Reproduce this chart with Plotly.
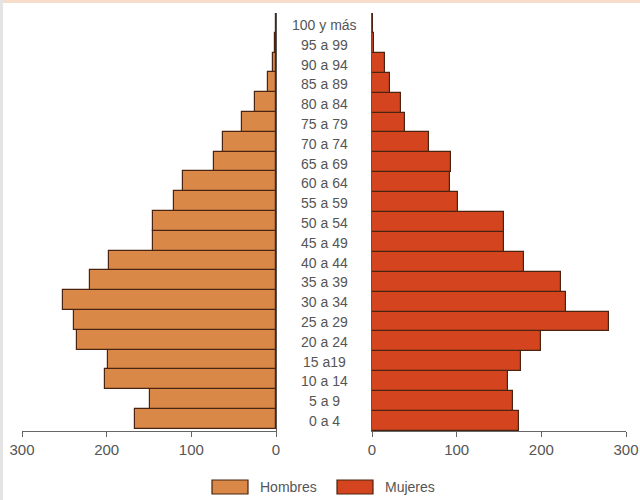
import plotly.graph_objects as go
from plotly.subplots import make_subplots

age_groups = ["0 a 4", "5 a 9", "10 a 14", "15 a19", "20 a 24", "25 a 29", "30 a 34",
              "35 a 39", "40 a 44", "45 a 49", "50 a 54", "55 a 59", "60 a 64", "65 a 69",
              "70 a 74", "75 a 79", "80 a 84", "85 a 89", "90 a 94", "95 a 99", "100 y más"]
hombres = [166, 149, 202, 198, 235, 238, 252, 220, 197, 145, 145, 120, 110, 73,
           63, 40, 25, 9, 3, 1, 0.5]
mujeres = [174, 167, 161, 176, 200, 280, 229, 223, 179, 156, 156, 102, 92, 93,
           67, 39, 34, 21, 15, 2, 1]
x_ticks = [0, 100, 200, 300]
series_names = ["Hombres", "Mujeres"]

c_h = "#DA8847"
c_m = "#D3441F"
edge = "#4a2410"
txt = "#555555"
font_family = "Liberation Sans, Arial, sans-serif"

W, H = 640, 500
T, B = 13, 69
PH = H - T - B  # plot height in px


def py(p):
    """pixel row -> paper y (paper spans the plot area)"""
    return (H - B - p) / PH


fig = make_subplots(rows=1, cols=2, shared_yaxes=False, horizontal_spacing=0)

fig.add_trace(go.Bar(y=age_groups, x=hombres, orientation="h", name=series_names[0],
                     marker=dict(color=c_h, line=dict(color=edge, width=1.2)),
                     showlegend=False), row=1, col=1)
fig.add_trace(go.Bar(y=age_groups, x=mujeres, orientation="h", name=series_names[1],
                     marker=dict(color=c_m, line=dict(color=edge, width=1.2)),
                     showlegend=False), row=1, col=2)

xcommon = dict(tickvals=x_ticks, ticktext=[str(v) for v in x_ticks], ticks="outside",
               ticklen=5, tickcolor="#666", showline=True, linecolor="#666", linewidth=1,
               showgrid=False, zeroline=False, automargin=False,
               tickfont=dict(family=font_family, size=15, color=txt))
fig.update_layout(
    xaxis=dict(domain=[22 / W, 276 / W], range=[300, 0], **xcommon),
    xaxis2=dict(domain=[372 / W, 626 / W], range=[0, 300], **xcommon),
    yaxis=dict(side="right", showline=True, linecolor="#555", linewidth=1.2,
               showticklabels=False, ticks="", showgrid=False, automargin=False,
               categoryorder="array", categoryarray=age_groups),
    yaxis2=dict(side="left", showline=True, linecolor="#555", linewidth=1.2,
                showticklabels=False, ticks="", showgrid=False, automargin=False,
                categoryorder="array", categoryarray=age_groups),
    bargap=0,
    width=W, height=H,
    margin=dict(l=0, r=0, t=T, b=B, autoexpand=False),
    plot_bgcolor="white", paper_bgcolor="white",
)

# central age labels
for g in age_groups:
    fig.add_annotation(x=324 / W, xref="paper", y=g, yref="y", text=g, showarrow=False,
                       yshift=-2, font=dict(family=font_family, size=14, color=txt),
                       xanchor="center", yanchor="middle")

# custom legend
legend_y = py(487)
half = 7 / PH
for (x0, x1, tx, col, name) in [(212, 248, 258, c_h, series_names[0]),
                                (337, 373, 383, c_m, series_names[1])]:
    fig.add_shape(type="rect", xref="paper", yref="paper",
                  x0=x0 / W, x1=x1 / W, y0=legend_y - half, y1=legend_y + half,
                  fillcolor=col, line=dict(color=edge, width=1.2))
    fig.add_annotation(x=tx / W, xref="paper", y=legend_y, yref="paper", text=name,
                       showarrow=False, xanchor="left", yanchor="middle",
                       font=dict(family=font_family, size=14, color=txt))

# faint page border like the scanned reference
fig.add_shape(type="rect", xref="paper", yref="paper", x0=0, x1=1, y0=py(3), y1=py(0),
              fillcolor="#f5dccb", line=dict(width=0), layer="below")
fig.add_shape(type="rect", xref="paper", yref="paper", x0=0, x1=3 / W, y0=py(H), y1=py(0),
              fillcolor="#e4e4e4", line=dict(width=0), layer="below")

fig.write_html("out.html", config={"displayModeBar": False},
               post_script="document.body.style.margin='0';")
